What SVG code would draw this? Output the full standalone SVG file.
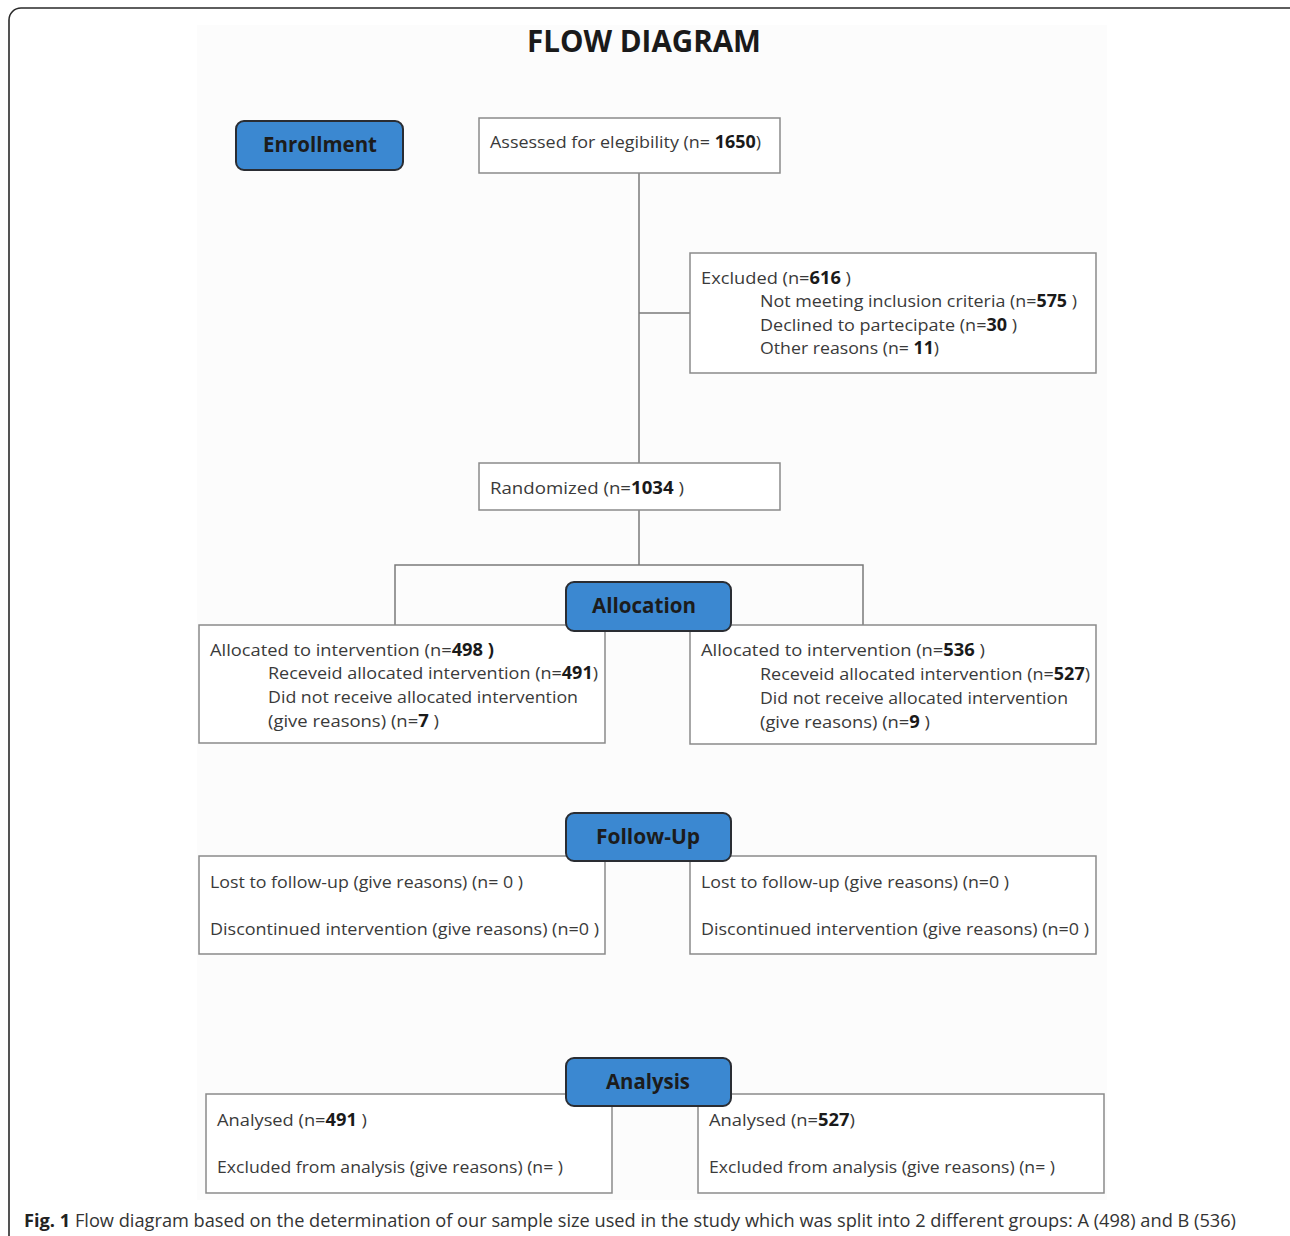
<svg xmlns="http://www.w3.org/2000/svg" width="1290" height="1236" viewBox="0 0 1290 1236">
<style>
.frame{fill:none;stroke:#2a2a2a;stroke-width:1.6}
.box{fill:#ffffff;stroke:#8a8a8a;stroke-width:1.5}
.btn{fill:#3b88d1;stroke:#2a2d33;stroke-width:2}
.btxt{font-family:"Open Sans","Liberation Sans",sans-serif;font-weight:bold;font-size:21px;fill:#1c1c1c;text-anchor:middle}
.t{font-family:"Open Sans","Liberation Sans",sans-serif;font-size:17px;fill:#3a3a3a}
.b{font-weight:bold;fill:#1a1a1a}
.line{fill:none;stroke:#7a7a7a;stroke-width:1.5}
.title{font-family:"Open Sans","Liberation Sans",sans-serif;font-weight:bold;font-size:31px;fill:#1a1a1a;text-anchor:middle}
.cap{font-family:"Open Sans","Liberation Sans",sans-serif;font-size:17.5px;fill:#333}
</style>
<rect x="0" y="0" width="1290" height="1236" fill="#ffffff"/>
<rect x="197" y="25" width="910" height="1175" fill="#fcfcfc"/>
<rect class="frame" x="9" y="8" width="1300" height="1300" rx="12"/>
<text class="title" x="644" y="52" textLength="234" lengthAdjust="spacingAndGlyphs">FLOW DIAGRAM</text>

<g id="connectors">
<path class="line" d="M639 173V463M639 313H690"/>
<path class="line" d="M639 510V565M395 625V565H863V625"/>
</g>

<g id="enrollment">
<rect class="btn" x="236" y="121" width="167" height="49" rx="8"/>
<text class="btxt" x="320" y="152" textLength="114" lengthAdjust="spacingAndGlyphs">Enrollment</text>
</g>

<g id="assessed">
<rect class="box" x="479" y="118" width="301" height="55"/>
<text class="t" x="490" y="148" textLength="271" lengthAdjust="spacingAndGlyphs">Assessed for elegibility (n= <tspan class="b">1650</tspan>)</text>
</g>

<g id="excluded">
<rect class="box" x="690" y="253" width="406" height="120"/>
<text class="t" x="701" y="284" textLength="150" lengthAdjust="spacingAndGlyphs">Excluded (n=<tspan class="b">616</tspan> )</text>
<text class="t" x="760" y="307" textLength="317" lengthAdjust="spacingAndGlyphs">Not meeting inclusion criteria (n=<tspan class="b">575</tspan> )</text>
<text class="t" x="760" y="331" textLength="257" lengthAdjust="spacingAndGlyphs">Declined to partecipate (n=<tspan class="b">30</tspan> )</text>
<text class="t" x="760" y="354" textLength="179" lengthAdjust="spacingAndGlyphs">Other reasons (n= <tspan class="b">11</tspan>)</text>
</g>

<g id="randomized">
<rect class="box" x="479" y="463" width="301" height="47"/>
<text class="t" x="490" y="494" textLength="194" lengthAdjust="spacingAndGlyphs">Randomized  (n=<tspan class="b">1034</tspan> )</text>
</g>

<g id="alloc-left">
<rect class="box" x="199" y="625" width="406" height="118"/>
<text class="t" x="210" y="656" textLength="284" lengthAdjust="spacingAndGlyphs">Allocated to intervention  (n=<tspan class="b">498 )</tspan></text>
<text class="t" x="268" y="679" textLength="330" lengthAdjust="spacingAndGlyphs">Receveid allocated intervention (n=<tspan class="b">491</tspan>)</text>
<text class="t" x="268" y="703" textLength="310" lengthAdjust="spacingAndGlyphs">Did not receive allocated intervention</text>
<text class="t" x="268" y="727" textLength="171" lengthAdjust="spacingAndGlyphs">(give reasons)  (n=<tspan class="b">7</tspan> )</text>
</g>

<g id="alloc-right">
<rect class="box" x="690" y="625" width="406" height="119"/>
<text class="t" x="701" y="656" textLength="284" lengthAdjust="spacingAndGlyphs">Allocated to intervention  (n=<tspan class="b">536</tspan> )</text>
<text class="t" x="760" y="680" textLength="330" lengthAdjust="spacingAndGlyphs">Receveid allocated intervention (n=<tspan class="b">527</tspan>)</text>
<text class="t" x="760" y="704" textLength="308" lengthAdjust="spacingAndGlyphs">Did not receive allocated intervention</text>
<text class="t" x="760" y="728" textLength="170" lengthAdjust="spacingAndGlyphs">(give reasons)  (n=<tspan class="b">9</tspan> )</text>
</g>

<g id="allocation">
<rect class="btn" x="566" y="582" width="165" height="49" rx="8"/>
<text class="btxt" x="644" y="613" textLength="104" lengthAdjust="spacingAndGlyphs">Allocation</text>
</g>

<g id="fu-left">
<rect class="box" x="199" y="856" width="406" height="98"/>
<text class="t" x="210" y="888" textLength="313" lengthAdjust="spacingAndGlyphs">Lost to follow-up (give reasons) (n= 0 )</text>
<text class="t" x="210" y="935" textLength="389" lengthAdjust="spacingAndGlyphs">Discontinued intervention (give reasons)  (n=0 )</text>
</g>

<g id="fu-right">
<rect class="box" x="690" y="856" width="406" height="98"/>
<text class="t" x="701" y="888" textLength="308" lengthAdjust="spacingAndGlyphs">Lost to follow-up (give reasons) (n=0 )</text>
<text class="t" x="701" y="935" textLength="388" lengthAdjust="spacingAndGlyphs">Discontinued intervention (give reasons)  (n=0 )</text>
</g>

<g id="followup">
<rect class="btn" x="566" y="813" width="165" height="48" rx="8"/>
<text class="btxt" x="648" y="844" textLength="104" lengthAdjust="spacingAndGlyphs">Follow-Up</text>
</g>

<g id="an-left">
<rect class="box" x="206" y="1094" width="406" height="99"/>
<text class="t" x="217" y="1126" textLength="150" lengthAdjust="spacingAndGlyphs">Analysed (n=<tspan class="b">491</tspan> )</text>
<text class="t" x="217" y="1173" textLength="346" lengthAdjust="spacingAndGlyphs">Excluded from analysis (give reasons) (n= )</text>
</g>

<g id="an-right">
<rect class="box" x="698" y="1094" width="406" height="99"/>
<text class="t" x="709" y="1126" textLength="146" lengthAdjust="spacingAndGlyphs">Analysed (n=<tspan class="b">527</tspan>)</text>
<text class="t" x="709" y="1173" textLength="346" lengthAdjust="spacingAndGlyphs">Excluded from analysis (give reasons) (n= )</text>
</g>

<g id="analysis">
<rect class="btn" x="566" y="1058" width="165" height="48" rx="8"/>
<text class="btxt" x="648" y="1089" textLength="84" lengthAdjust="spacingAndGlyphs">Analysis</text>
</g>

<text class="cap" x="24" y="1227" textLength="1212" lengthAdjust="spacingAndGlyphs"><tspan font-weight="bold" fill="#222">Fig. 1</tspan> Flow diagram based on the determination of our sample size used in the study which was split into 2 different groups: A (498) and B (536)</text>
</svg>
